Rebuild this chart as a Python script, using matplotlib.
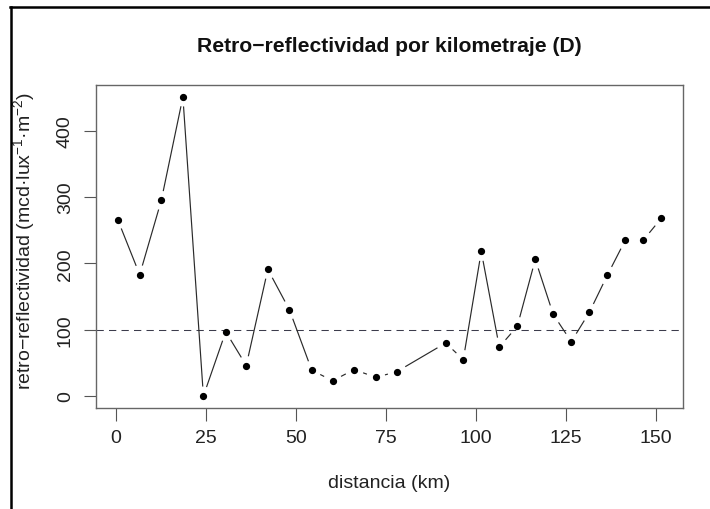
import numpy as np
import matplotlib
matplotlib.use("Agg")
import matplotlib.pyplot as plt
from matplotlib.lines import Line2D

plt.rcParams['font.family'] = ['Liberation Sans', 'DejaVu Sans']
plt.rcParams['mathtext.fontset'] = 'custom'
plt.rcParams['mathtext.rm'] = 'Liberation Sans'
plt.rcParams['mathtext.it'] = 'Liberation Sans:italic'

# Distance along the road (km) and measured retro-reflectivity
distancia_km = [0.5, 6.6, 12.6, 18.6, 24.3, 30.5, 36.2, 42.2, 48.2, 54.4,
                60.2, 66.2, 72.2, 78.1, 91.6, 96.5, 101.5, 106.5, 111.5,
                116.5, 121.5, 126.5, 131.5, 136.5, 141.5, 146.5, 151.5]
retro = [266, 183, 295, 451, 0, 97, 46, 191, 130, 39,
         23, 40, 28, 37, 80, 55, 218, 74, 105,
         206, 123, 82, 126, 182, 235, 235, 268]
umbral = 100
x_ticks = [0, 25, 50, 75, 100, 125, 150]
y_ticks = [0, 100, 200, 300, 400]

W, H = 710, 510
fig = plt.figure(figsize=(W / 100, H / 100), dpi=100)
fig.patch.set_facecolor('white')

ax = fig.add_axes([96 / W, 1 - 409 / H, (683 - 96) / W, (409 - 86) / H])

x = np.array(distancia_km, dtype=float)
y = np.array(retro, dtype=float)
rx = x.max() - x.min()
ry = y.max() - y.min()
ax.set_xlim(x.min() - 0.04 * rx, x.max() + 0.04 * rx)
ax.set_ylim(y.min() - 0.04 * ry, y.max() + 0.04 * ry)

ax.axhline(umbral, color='#3c3c4c', lw=0.75, linestyle=(0, (7, 5)), zorder=1)

# "both" style: segments stop short of each point
gap_px = 9.5
disp = ax.transData.transform(np.column_stack([x, y]))
inv = ax.transData.inverted()
for i in range(len(x) - 1):
    p0, p1 = disp[i], disp[i + 1]
    d = p1 - p0
    L = np.hypot(*d)
    if L <= 2 * gap_px:
        continue
    u = d / L
    a = inv.transform(p0 + u * gap_px)
    b = inv.transform(p1 - u * gap_px)
    ax.plot([a[0], b[0]], [a[1], b[1]], color='#2a2a2a', lw=0.85,
            solid_capstyle='butt', zorder=2)

ax.plot(x, y, 'o', color='black', ms=4.2, zorder=3)

ax.set_xticks(x_ticks)
ax.set_yticks(y_ticks)
ax.set_xticklabels([str(v) for v in x_ticks])
ax.set_yticklabels([str(v) for v in y_ticks], rotation=90, va='center')
ax.tick_params(axis='both', length=9, width=0.8, color='#555555',
               labelsize=14, labelcolor='#222222')
ax.tick_params(axis='x', pad=6)
ax.tick_params(axis='y', pad=7)
for s in ax.spines.values():
    s.set_color('#666666')
    s.set_linewidth(1.0)

cx = (96 + 683) / 2 / W
fig.text(cx, 1 - 47 / H, 'Retro\u2212reflectividad por kilometraje (D)',
         ha='center', va='center', fontsize=15.2, fontweight='bold',
         color='#111111')
fig.text(cx, 1 - 484 / H, 'distancia (km)', ha='center', va='center',
         fontsize=14, color='#222222')
fig.text(24 / W, 1 - 241 / H,
         r'retro$-$reflectividad (mcd·lux$^{-1}$·m$^{-2}$)',
         ha='center', va='center', rotation=90, fontsize=14,
         color='#222222')

# outer frame (top and left edges) with the margin beyond it kept blank
fig.patches.append(plt.Rectangle((0, 0), 10 / W, 1, transform=fig.transFigure,
                                 facecolor='white', edgecolor='none', zorder=5))
fig.patches.append(plt.Rectangle((0, 1 - 7 / H), 1, 7 / H, transform=fig.transFigure,
                                 facecolor='white', edgecolor='none', zorder=5))
fig.add_artist(Line2D([11 / W, 11 / W], [0, 1 - 8 / H], transform=fig.transFigure,
                      color='black', lw=1.8, zorder=6))
fig.add_artist(Line2D([10 / W, 1], [1 - 8 / H, 1 - 8 / H], transform=fig.transFigure,
                      color='black', lw=1.8, zorder=6))

fig.savefig('out.png', dpi=100, facecolor='white')
